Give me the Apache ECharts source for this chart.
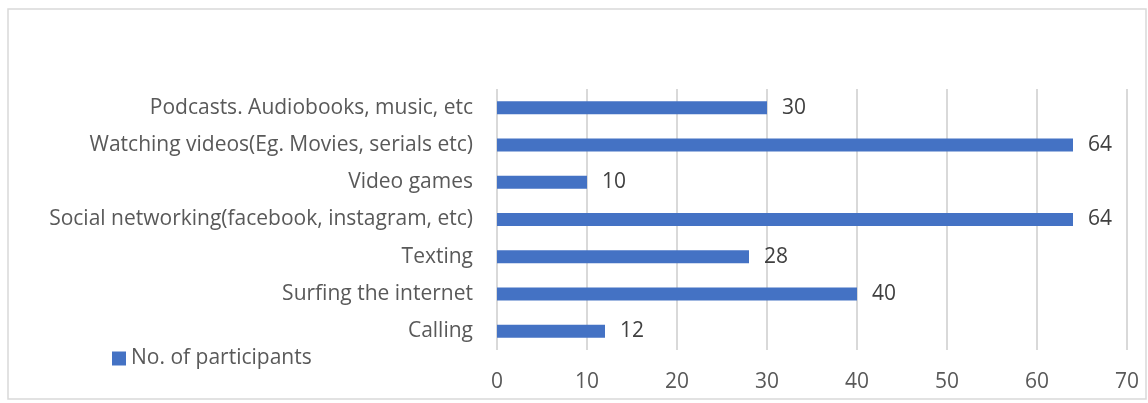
<!DOCTYPE html>
<html>
<head>
<meta charset="utf-8">
<script src="https://cdn.jsdelivr.net/npm/echarts@6/dist/echarts.min.js"></script>
<style>
  html, body { margin: 0; padding: 0; background: #fff; }
  #chart { width: 1148px; height: 403px; }
</style>
</head>
<body>
<div id="chart"></div>
<script>
// Activities, listed bottom to top as drawn on the category axis
const activities = [
  'Calling',
  'Surfing the internet',
  'Texting',
  'Social networking(facebook, instagram, etc)',
  'Video games',
  'Watching videos(Eg. Movies, serials etc)',
  'Podcasts. Audiobooks, music, etc'
];
const participants = [12, 40, 28, 64, 10, 64, 30];
const seriesName = 'No. of participants';
const xTicks = [0, 10, 20, 30, 40, 50, 60, 70];

const FONT = 'Open Sans';
const FS = 21;
const chart = echarts.init(document.getElementById('chart'), null, { renderer: 'canvas' });

chart.setOption({
  backgroundColor: '#ffffff',
  animation: false,
  textStyle: { fontFamily: FONT },
  graphic: [{
    type: 'rect',
    shape: { x: 8, y: 9, width: 1138, height: 390 },
    style: { fill: 'none', stroke: '#d9d9d9', lineWidth: 1.5 },
    silent: true
  }],
  legend: {
    data: [seriesName],
    left: 112,
    top: 348,
    padding: 0,
    itemWidth: 14,
    itemHeight: 14,
    icon: 'rect',
    textStyle: { fontFamily: FONT, fontSize: FS, color: '#595959' }
  },
  grid: { left: 497, right: 21, top: 89, bottom: 53, containLabel: false },
  xAxis: {
    type: 'value',
    min: xTicks[0],
    max: xTicks[xTicks.length - 1],
    interval: 10,
    axisLine: { show: false },
    axisTick: { show: false },
    axisLabel: { fontFamily: FONT, fontSize: FS, color: '#595959', margin: 22 },
    splitLine: { show: true, lineStyle: { color: '#d9d9d9', width: 2 } }
  },
  yAxis: {
    type: 'category',
    data: activities,
    axisLine: { show: false },
    axisTick: { show: false },
    axisLabel: { fontFamily: FONT, fontSize: FS, color: '#595959', margin: 24 }
  },
  series: [{
    name: seriesName,
    type: 'bar',
    data: participants,
    barWidth: 13,
    itemStyle: { color: '#4472c4' },
    label: {
      show: true,
      position: 'right',
      distance: 15,
      fontFamily: FONT,
      fontSize: FS,
      color: '#404040'
    }
  }]
});
</script>
</body>
</html>
